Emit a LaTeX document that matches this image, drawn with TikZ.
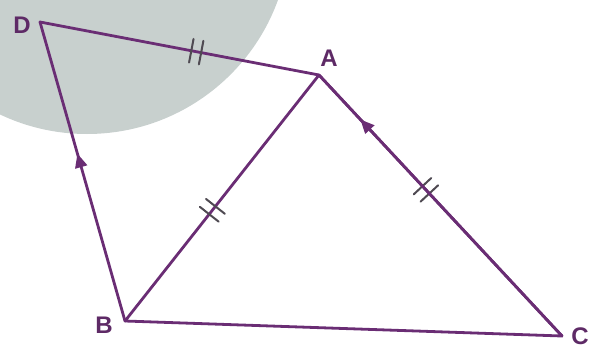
\documentclass[tikz,border=0pt]{standalone}
\usepackage{fontspec}
\setmainfont{Liberation Sans}
\usepackage{xcolor}
\usepackage{tikz}
\usetikzlibrary{arrows.meta, decorations.markings}

\definecolor{edgepurple}{HTML}{6A2D74}
\definecolor{labelpurple}{HTML}{5E2A66}
\definecolor{discgrey}{HTML}{C8D0CE}
\definecolor{tickgrey}{HTML}{4F4A52}

\begin{document}
\begin{tikzpicture}[
    x=1pt, y=-1pt,
    edge/.style={draw=edgepurple, line width=2.8pt, line cap=round, line join=round},
    vlabel/.style={text=labelpurple, font=\fontsize{24}{24}\selectfont\bfseries, inner sep=0pt},
    twoticks/.style={postaction={decorate}, decoration={markings,
        mark=at position #1 with {\draw[tickgrey, line width=2pt] (-5,-12) -- (-5,12) (5,-12) -- (5,12);}}},
    midarrow/.style={postaction={decorate}, decoration={markings,
        mark=at position #1 with {\arrow[edgepurple]{Triangle[length=14pt, width=12pt]}}}}
]
\useasboundingbox (0,0) rectangle (594,351);

% shaded disc behind the figure
\begin{scope}
\clip (0,0) rectangle (594,351);
\fill[discgrey] (87,-69) circle[radius=203];
\end{scope}

% vertices
\coordinate (D) at (40,22);
\coordinate (A) at (319,75);
\coordinate (B) at (125,321);
\coordinate (C) at (562,336);

% labels
\node[vlabel] (lD) at (22,25) {D};
\node[vlabel] (lA) at (329,58) {A};
\node[vlabel] (lB) at (104,325) {B};
\node[vlabel] (lC) at (580,336) {C};

% sides
\draw[edge, twoticks=0.56] (D) -- (A);
\draw[edge, twoticks=0.55] (A) -- (B);
\draw[edge, twoticks=0.44] (A) -- (C);
\draw[edge, midarrow=0.56] (B) -- (D);
\draw[edge, midarrow=0.83] (C) -- (A);
\draw[edge] (B) -- (C);

\end{tikzpicture}
\end{document}
